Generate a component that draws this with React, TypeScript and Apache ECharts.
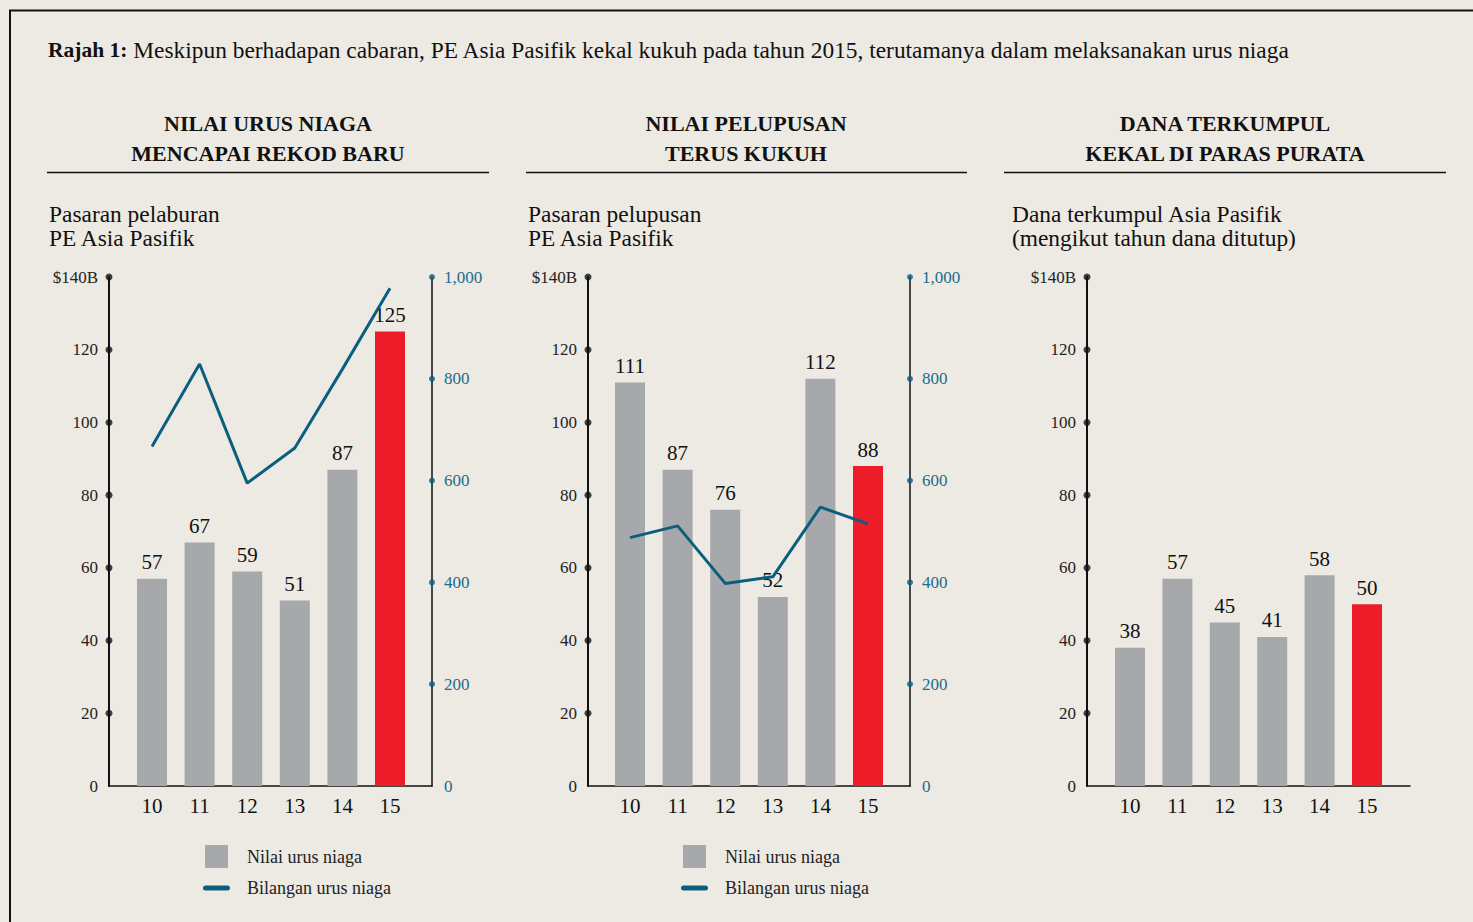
import React, { useEffect, useRef } from 'react';
import * as echarts from 'echarts';

// ---- data ----
const years = ['10', '11', '12', '13', '14', '15'];
const dealValue = [57, 67, 59, 51, 87, 125];
const dealCount = [667, 829, 595, 664, 819, 978];
const exitValue = [111, 87, 76, 52, 112, 88];
const exitCount = [488, 511, 398, 411, 548, 515];
const fundsRaised = [38, 57, 45, 41, 58, 50];
const leftTicks = [0, 20, 40, 60, 80, 100, 120, 140];
const rightTicks = [0, 200, 400, 600, 800, 1000];

const titleBold = 'Rajah 1:';
const titleRest = ' Meskipun berhadapan cabaran, PE Asia Pasifik kekal kukuh pada tahun 2015, terutamanya dalam melaksanakan urus niaga';
const headers = ['NILAI URUS NIAGA\nMENCAPAI REKOD BARU', 'NILAI PELUPUSAN\nTERUS KUKUH', 'DANA TERKUMPUL\nKEKAL DI PARAS PURATA'];
const subtitles = ['Pasaran pelaburan\nPE Asia Pasifik', 'Pasaran pelupusan\nPE Asia Pasifik', 'Dana terkumpul Asia Pasifik\n(mengikut tahun dana ditutup)'];
const legendBar = 'Nilai urus niaga';
const legendLine = 'Bilangan urus niaga';

// ---- style ----
const FONT = 'Liberation Serif';
const BG = '#EDEAE4';
const GREY = '#A7A8AB';
const RED = '#ED1C29';
const TEAL = '#0B5E7E';
const TEAL_TXT = '#1B6C8C';
const INK = '#111111';

const panels = [
  { axisL: 109, axisR: 432, bandL: 128.2, bandR: 413.8, bars: dealValue, line: dealCount, hasRight: true, legendLeft: 198, center: 268, ruleL: 47, ruleR: 489, subLeft: 49 },
  { axisL: 588, axisR: 910, bandL: 606.2, bandR: 891.8, bars: exitValue, line: exitCount, hasRight: true, legendLeft: 676, center: 746, ruleL: 526, ruleR: 967, subLeft: 528 },
  { axisL: 1087, axisR: 1410, bandL: 1106.3, bandR: 1390.7, bars: fundsRaised, line: null as number[] | null, hasRight: false, legendLeft: 0, center: 1225, ruleL: 1004, ruleR: 1446, subLeft: 1012 },
];

const GRID_TOP = 277;
const GRID_H = 509;

function buildOption() {
  const grid: any[] = [];
  const xAxis: any[] = [];
  const yAxis: any[] = [];
  const series: any[] = [];
  const legend: any[] = [];
  const graphic: any[] = [];

  graphic.push({
    type: 'rect',
    shape: { x: 10, y: 10.5, width: 1500, height: 1000 },
    style: { fill: 'none', stroke: INK, lineWidth: 2 },
    silent: true,
  });
  graphic.push({
    type: 'text',
    x: 48,
    y: 50,
    style: {
      text: `{b|${titleBold}}{r|${titleRest}}`,
      textVerticalAlign: 'middle',
      rich: {
        b: { fontFamily: FONT, fontSize: 21.5, fontWeight: 'bold', fill: INK },
        r: { fontFamily: FONT, fontSize: 23.4, fill: INK },
      },
    },
  });

  panels.forEach((p, i) => {
    graphic.push({
      type: 'text',
      x: p.center,
      y: 108,
      style: { text: headers[i], fontFamily: FONT, fontSize: 22, fontWeight: 'bold', fill: INK, textAlign: 'center', textVerticalAlign: 'top', lineHeight: 30 },
    });
    graphic.push({
      type: 'line',
      shape: { x1: p.ruleL, y1: 172.5, x2: p.ruleR, y2: 172.5 },
      style: { stroke: INK, lineWidth: 1.5 },
    });
    graphic.push({
      type: 'text',
      x: p.subLeft,
      y: 202,
      style: { text: subtitles[i], fontFamily: FONT, fontSize: 23.4, fill: INK, textAlign: 'left', textVerticalAlign: 'top', lineHeight: 24 },
    });

    // outer grid (axes frame)
    const gOuter = grid.length;
    grid.push({ left: p.axisL, top: GRID_TOP, width: p.axisR - p.axisL, height: GRID_H, containLabel: false });
    const xOuter = xAxis.length;
    xAxis.push({
      type: 'value', gridIndex: gOuter, min: 0, max: 1,
      axisLine: { show: true, onZero: false, lineStyle: { color: INK, width: 1.5 } },
      axisTick: { show: false }, axisLabel: { show: false }, splitLine: { show: false },
    });
    const yOuterL = yAxis.length;
    yAxis.push({
      type: 'value', gridIndex: gOuter, position: 'left', min: 0, max: 140, interval: 20,
      axisLine: { show: true, onZero: false, lineStyle: { color: INK, width: 2 } },
      axisTick: { show: false }, splitLine: { show: false },
      axisLabel: {
        fontFamily: FONT, fontSize: 17, color: '#222', margin: 11,
        formatter: (v: number) => (v === 140 ? '$140B' : String(v)),
      },
    });
    series.push({
      type: 'scatter', xAxisIndex: xOuter, yAxisIndex: yOuterL, silent: true, clip: false, z: 5,
      symbolSize: 7, itemStyle: { color: INK },
      data: leftTicks.filter((v) => v > 0).map((v) => [0, v]),
    });
    if (p.hasRight) {
      const yOuterR = yAxis.length;
      yAxis.push({
        type: 'value', gridIndex: gOuter, position: 'right', min: 0, max: 1000, interval: 200,
        axisLine: { show: true, onZero: false, lineStyle: { color: INK, width: 1.5 } },
        axisTick: { show: false }, splitLine: { show: false },
        axisLabel: {
          fontFamily: FONT, fontSize: 17, color: TEAL_TXT, margin: 12,
          formatter: (v: number) => v.toLocaleString('en-US'),
        },
      });
      series.push({
        type: 'scatter', xAxisIndex: xOuter, yAxisIndex: yOuterR, silent: true, clip: false, z: 5,
        symbolSize: 6, itemStyle: { color: TEAL },
        data: rightTicks.filter((v) => v > 0).map((v) => [1, v]),
      });
    }

    // inner grid (category band)
    const gInner = grid.length;
    grid.push({ left: p.bandL, top: GRID_TOP, width: p.bandR - p.bandL, height: GRID_H, containLabel: false });
    const xInner = xAxis.length;
    xAxis.push({
      type: 'category', gridIndex: gInner, data: years, boundaryGap: true,
      axisLine: { show: false }, axisTick: { show: false }, splitLine: { show: false },
      axisLabel: { fontFamily: FONT, fontSize: 21, color: INK, margin: 9 },
    });
    const yInnerL = yAxis.length;
    yAxis.push({ type: 'value', gridIndex: gInner, min: 0, max: 140, show: false, splitLine: { show: false } });
    const yInnerR = yAxis.length;
    yAxis.push({ type: 'value', gridIndex: gInner, min: 0, max: 1000, show: false, splitLine: { show: false } });

    const last = p.bars.length - 1;
    series.push({
      type: 'bar', name: p.line ? legendBar : 'Dana terkumpul',
      xAxisIndex: xInner, yAxisIndex: yInnerL, barWidth: 30,
      itemStyle: { color: GREY },
      data: p.bars.map((v, k) => ({ value: v, itemStyle: { color: k === last ? RED : GREY } })),
      label: { show: true, position: 'top', distance: 6, fontFamily: FONT, fontSize: 21, color: INK },
      z: 2,
    });
    if (p.line) {
      series.push({
        type: 'line', name: legendLine, xAxisIndex: xInner, yAxisIndex: yInnerR,
        data: p.line, symbol: 'none',
        lineStyle: { color: TEAL, width: 3 }, itemStyle: { color: TEAL },
        z: 3,
      });
      legend.push({
        left: p.legendLeft, top: 840, orient: 'vertical', selectedMode: false,
        itemWidth: 27, itemHeight: 23, itemGap: 11,
        textStyle: { fontFamily: FONT, fontSize: 18, color: '#222', padding: [0, 0, 0, 12] },
        data: [
          { name: legendBar, icon: 'path://M0,0h23v23h-23z', itemStyle: { color: GREY } },
          { name: legendLine, icon: 'path://M2.5,0h22a2.5,2.5 0 0 1 0,5h-22a2.5,2.5 0 0 1 0,-5z', itemStyle: { color: TEAL } },
        ],
      });
    }
  });

  return {
    animation: false,
    backgroundColor: BG,
    textStyle: { fontFamily: FONT },
    grid, xAxis, yAxis, series, legend, graphic,
  };
}

export default function App() {
  const ref = useRef<HTMLDivElement>(null);
  useEffect(() => {
    document.body.style.margin = '0';
    const chart = echarts.init(ref.current!, null, { renderer: 'svg' });
    chart.setOption(buildOption() as any);
    return () => chart.dispose();
  }, []);
  return <div ref={ref} style={{ width: 1473, height: 922 }} />;
}
